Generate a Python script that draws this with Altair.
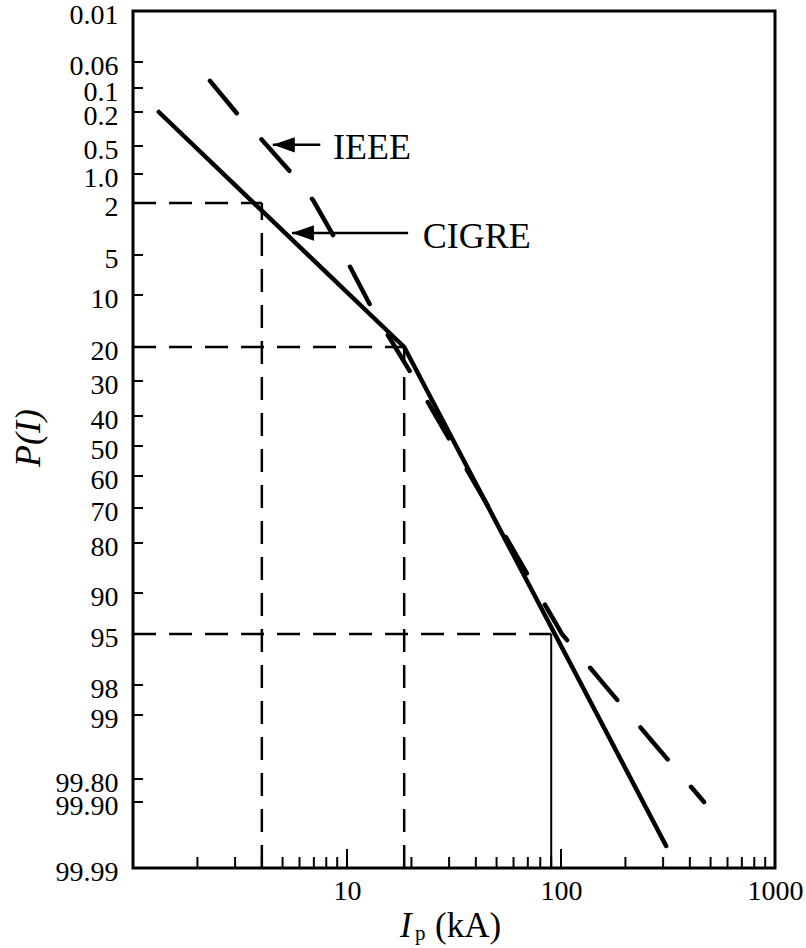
import altair as alt
import pandas as pd

# ---------------- data ----------------
cigre_I = [1.32, 18.5, 310]
cigre_P = [0.2, 20, 99.96]

ieee_I = [2.29, 3.16, 4.01, 5.59, 6.94, 8.98, 13.2, 20.8, 101, 155, 269, 466]
ieee_P = [0.089, 0.244, 0.447, 1.03, 1.9, 4.25, 12.9, 29.7, 95, 97.8, 99.34, 99.9]

guide_I = [4, 18.5, 90]
guide_P = [2, 20, 95]
guide_solid = [False, False, True]

y_tick_values = [0.01, 0.06, 0.1, 0.2, 0.5, 1.0, 2, 5, 10, 20, 30, 40, 50, 60,
                 70, 80, 90, 95, 98, 99, 99.8, 99.9, 99.99]
y_tick_labels = ["0.01", "0.06", "0.1", "0.2", "0.5", "1.0", "2", "5", "10", "20",
                 "30", "40", "50", "60", "70", "80", "90", "95", "98", "99",
                 "99.80", "99.90", "99.99"]
x_label_values = [10, 100, 1000]
x_minor_ticks = [2, 3, 4, 5, 6, 7, 8, 9, 20, 30, 40, 50, 60, 70, 80, 90,
                 200, 300, 400, 500, 600, 700, 800, 900]
x_major_ticks = [10, 100]

ann_text = ["IEEE", "CIGRE"]
ann_text_I = [8.6, 22.6]
ann_text_P = [0.536, 3.96]
arrow_tip_I = [4.5, 5.53]
arrow_tail_I = [7.5, 19.3]
arrow_P = [0.49, 3.73]

# ---------------- layout / style ----------------
W, H = 642, 857
# pixel position (from top of plot) of each probability tick on this hand-drawn probability paper
Y_PIX = [0, 51, 77, 101, 135, 163, 192, 244, 284, 336, 370, 405, 435, 465,
         497, 532, 582, 623, 674, 704, 768, 791, 857]
FONT = "Liberation Serif"

xscale = alt.Scale(type="log", domain=[1, 1000], nice=False)
yscale = alt.Scale(type="linear", domain=y_tick_values, range=Y_PIX, nice=False, zero=False)

lab_expr = "[" + ",".join("'%s'" % s for s in y_tick_labels) + "][indexof([" + \
    ",".join(repr(v) for v in y_tick_values) + "], datum.value)]"

x_axis = alt.Axis(values=x_label_values, format="d", labelFlush=False, labelOverlap=False,
                  ticks=False, tickSize=0, domain=False, grid=False, labelPadding=9,
                  title=None, labelFont=FONT, labelFontSize=28, labelColor="black")
y_axis = alt.Axis(values=y_tick_values, labelExpr=lab_expr, labelOverlap=False,
                  ticks=False, tickSize=0, domain=False, grid=False, labelPadding=15,
                  labelOffset=4, title=None, labelFont=FONT, labelFontSize=28,
                  labelColor="black")


def X(f):
    return alt.X(f, type="quantitative", scale=xscale, axis=x_axis)


def Y(f):
    return alt.Y(f, type="quantitative", scale=yscale, axis=y_axis)


cigre_df = pd.DataFrame({"I": cigre_I, "P": cigre_P})
ieee_df = pd.DataFrame({"I": ieee_I, "P": ieee_P})
guide_df = pd.DataFrame({"I": guide_I, "P": guide_P, "solid": guide_solid,
                         "I0": [1] * 3, "Pb": [99.99] * 3})

# the two distribution lines
cigre = alt.Chart(cigre_df).mark_line(color="black", strokeWidth=4.5, strokeCap="round").encode(
    x=X("I"), y=Y("P"))
ieee = alt.Chart(ieee_df).mark_line(color="black", strokeWidth=4.5, strokeCap="round",
                                     strokeDash=[42, 36]).encode(x=X("I"), y=Y("P"))

# guide lines
g_h = alt.Chart(guide_df).mark_rule(color="black", strokeWidth=2.5, strokeDash=[23, 13]).encode(
    x=X("I0"), x2="I", y=Y("P"))
g_v = alt.Chart(guide_df).transform_filter("!datum.solid").mark_rule(
    color="black", strokeWidth=2.5, strokeDash=[23, 13]).encode(x=X("I"), y=Y("Pb"), y2="P")
g_vs = alt.Chart(guide_df).transform_filter("datum.solid").mark_rule(
    color="black", strokeWidth=2).encode(x=X("I"), y=Y("Pb"), y2="P")

# inward tick marks
xt_minor = alt.Chart(pd.DataFrame({"I": x_minor_ticks})).mark_rule(color="black", strokeWidth=2).encode(
    x=X("I"), y=alt.value(H), y2=alt.value(H - 11))
xt_major = alt.Chart(pd.DataFrame({"I": x_major_ticks})).mark_rule(color="black", strokeWidth=2).encode(
    x=X("I"), y=alt.value(H), y2=alt.value(H - 19))
yt = alt.Chart(pd.DataFrame({"P": y_tick_values[1:-1]})).mark_rule(color="black", strokeWidth=2).encode(
    y=Y("P"), x=alt.value(0), x2=alt.value(10))

# annotations
ann_df = pd.DataFrame({"t": ann_text, "tI": ann_text_I, "tP": ann_text_P,
                       "aI": arrow_tip_I, "bI": arrow_tail_I, "aP": arrow_P})
ann_txt = alt.Chart(ann_df).mark_text(font=FONT, fontSize=36, align="left", baseline="middle",
                                      color="black").encode(x=X("tI"), y=Y("tP"), text="t")
ann_line = alt.Chart(ann_df).mark_rule(color="black", strokeWidth=2.5).encode(
    x=X("aI"), x2="bI", y=Y("aP"))
ann_head = alt.Chart(ann_df).mark_point(shape="M0,0L2,-0.7L2,0.7Z", filled=True, size=484,
                                        color="black", opacity=1, strokeWidth=0).encode(
    x=X("aI"), y=Y("aP"))

# axis titles
ytitle = alt.Chart(pd.DataFrame({"t": ["P(I)"]})).mark_text(
    font=FONT, fontSize=36, fontStyle="italic", angle=270, align="center", baseline="middle",
    color="black").encode(text="t", x=alt.value(-104), y=alt.value(427))
xt1 = alt.Chart(pd.DataFrame({"t": ["I"]})).mark_text(
    font=FONT, fontSize=35, fontStyle="italic", align="left", baseline="alphabetic",
    color="black").encode(text="t", x=alt.value(267), y=alt.value(926))
xt2 = alt.Chart(pd.DataFrame({"t": ["p"]})).mark_text(
    font=FONT, fontSize=21, align="left", baseline="alphabetic",
    color="black").encode(text="t", x=alt.value(282), y=alt.value(929))
xt3 = alt.Chart(pd.DataFrame({"t": ["(kA)"]})).mark_text(
    font=FONT, fontSize=35, align="left", baseline="alphabetic",
    color="black").encode(text="t", x=alt.value(302), y=alt.value(926))

chart = alt.layer(
    g_h, g_v, g_vs, xt_minor, xt_major, yt, cigre, ieee, ann_line, ann_head, ann_txt,
    ytitle, xt1, xt2, xt3
).properties(
    width=W, height=H,
    autosize=alt.AutoSizeParams(type="none"),
    padding={"left": 133, "top": 11, "right": 31, "bottom": 80},
    background="white",
).configure_view(stroke="black", strokeWidth=3)

chart.save("out.html", embed_options={"renderer": "svg", "actions": False})
